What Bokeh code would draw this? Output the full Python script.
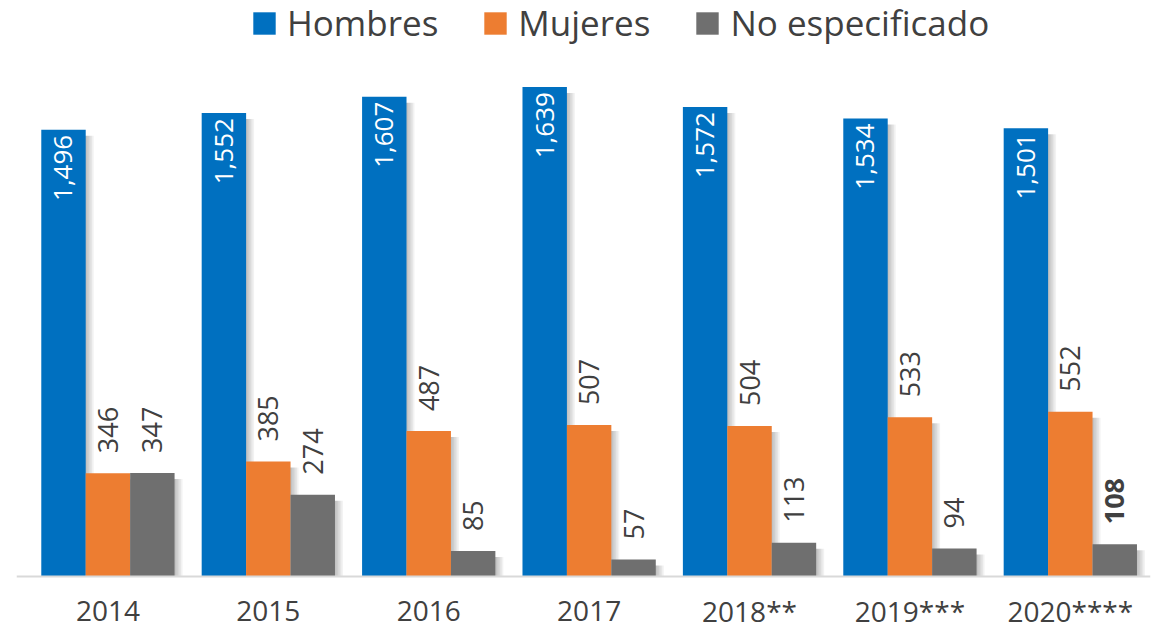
import math
from bokeh.plotting import figure
from bokeh.models import ColumnDataSource, Range1d, Legend, LegendItem, Span
from bokeh.transform import dodge
from bokeh.core.properties import value
from bokeh.embed import file_html
from bokeh.resources import INLINE

years = ["2014", "2015", "2016", "2017", "2018**", "2019***", "2020****"]
hombres = [1496, 1552, 1607, 1639, 1572, 1534, 1501]
mujeres = [346, 385, 487, 507, 504, 533, 552]
no_especificado = [347, 274, 85, 57, 113, 94, 108]

BLUE = "#0070C0"
ORANGE = "#ED7D31"
GRAY = "#6F6F6F"
TEXT = "#404040"
FONT = "Open Sans"

xs = list(range(len(years)))
src = ColumnDataSource(dict(
    x=xs,
    year=years,
    zero=[0] * len(years),
    hombres=hombres,
    mujeres=mujeres,
    no_esp=no_especificado,
    h_txt=[f"{v:,}" for v in hombres],
    m_txt=[f"{v:,}" for v in mujeres],
    n_txt=[f"{v:,}" for v in no_especificado],
    n_style=["bold" if y == "2020****" else "normal" for y in years],
))

W, H = 1160, 630
XS = 160.4    # px per category
YS = 0.2986   # px per unit
BASE = 576    # baseline in canvas px
LEFT = 16
RIGHT = 10
frame_w = W - LEFT - RIGHT
x0 = -0.57
p = figure(width=W, height=H, output_backend="svg", toolbar_location=None,
           x_range=Range1d(x0, x0 + frame_w / XS),
           y_range=Range1d(-(H - BASE) / YS, BASE / YS),
           min_border_left=LEFT, min_border_right=RIGHT, min_border_top=0, min_border_bottom=0)
p.outline_line_color = None
p.xgrid.visible = False
p.ygrid.visible = False
p.yaxis.visible = False
p.xaxis.visible = False
p.background_fill_color = "white"
p.border_fill_color = "white"

bw = 0.277
px = 1 / XS
py = 1 / YS

offsets = [-bw, 0.0, bw]
fields = ["hombres", "mujeres", "no_esp"]
colors = [BLUE, ORANGE, GRAY]

# soft drop shadows
for off, f in zip(offsets, fields):
    for k in range(1, 6):
        p.vbar(x=dodge("x", off + k * 1.6 * px), top=dodge(f, -6 * py), bottom=0,
               width=bw, source=src, fill_color="black", fill_alpha=0.05,
               line_color=None)

renderers = []
for off, f, c in zip(offsets, fields, colors):
    r = p.vbar(x=dodge("x", off), top=f, bottom=0, width=bw, source=src,
               fill_color=c, line_color=None)
    renderers.append(r)

# baseline
p.add_layout(Span(location=0, dimension="width", line_color="#D9D9D9", line_width=2))

# value labels
p.text(x=dodge("x", -bw), y="hombres", text="h_txt", source=src, angle=math.pi / 2,
       text_align="right", text_baseline="middle", y_offset=5,
       text_color="white", text_font=value(FONT), text_font_size="26px")
p.text(x=dodge("x", 0), y="mujeres", text="m_txt", source=src, angle=math.pi / 2,
       text_align="left", text_baseline="middle", y_offset=-20,
       text_color=TEXT, text_font=value(FONT), text_font_size="27px")
p.text(x=dodge("x", bw), y="no_esp", text="n_txt", source=src, angle=math.pi / 2,
       text_align="left", text_baseline="middle", y_offset=-20,
       text_color=TEXT, text_font=value(FONT), text_font_size="27px",
       text_font_style="n_style")

# category labels (x axis)
p.text(x="x", y="zero", text="year", source=src, text_align="center",
       text_baseline="alphabetic", y_offset=34, text_color=TEXT,
       text_font=value(FONT), text_font_size="28px")

legend = Legend(items=[LegendItem(label=n, renderers=[r]) for n, r in
                       zip(["Hombres", "Mujeres", "No especificado"], renderers)],
                orientation="horizontal", location=(234, 584),
                glyph_width=28, glyph_height=28, label_standoff=9, spacing=43,
                padding=0, margin=0, border_line_color=None,
                background_fill_alpha=0,
                label_text_font=FONT, label_text_font_size="35px",
                label_text_color=TEXT)
p.add_layout(legend)

open("out.html", "w").write(file_html(p, INLINE))
